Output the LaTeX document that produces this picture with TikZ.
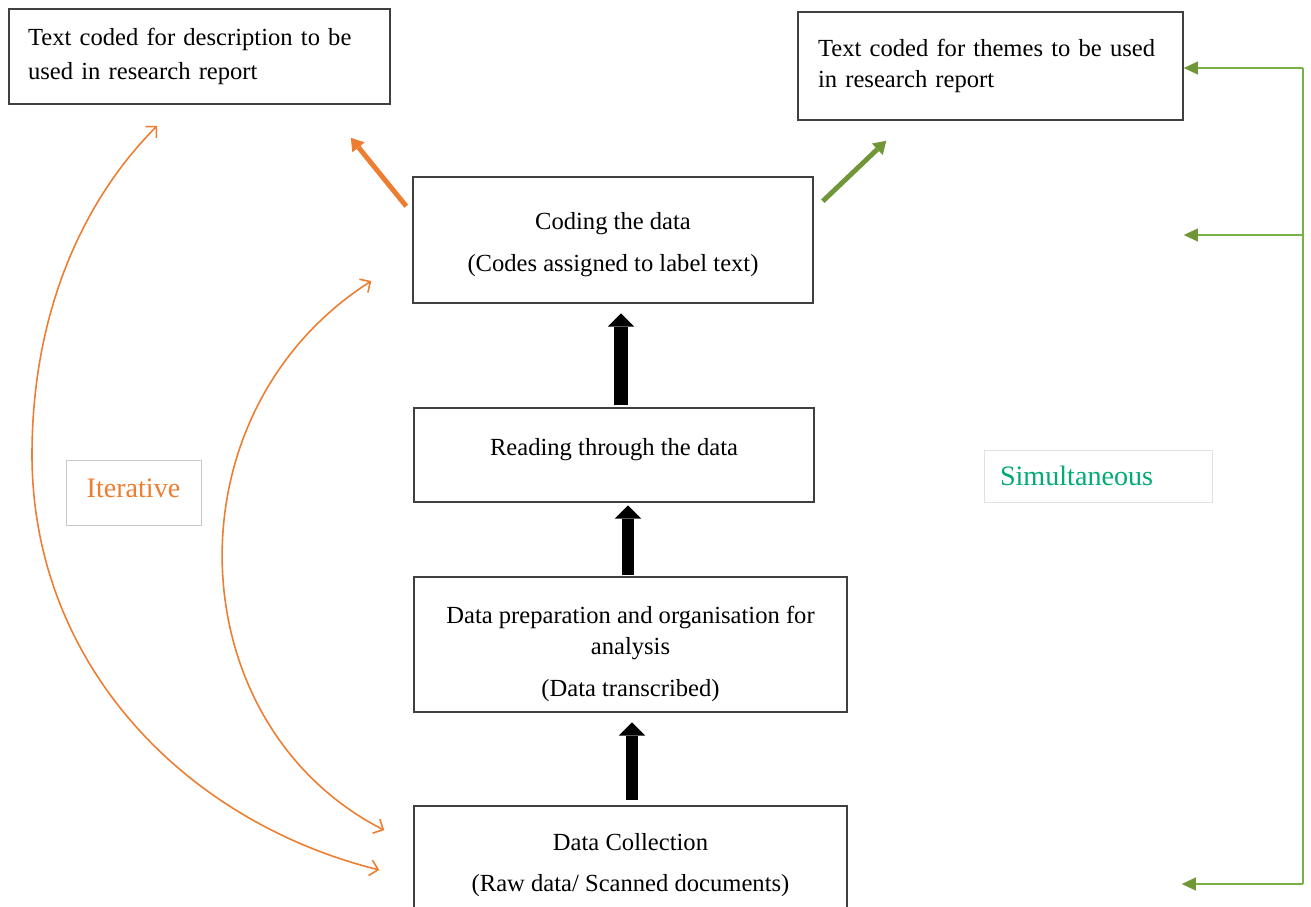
\documentclass[tikz,border=0pt]{standalone}
\usepackage{fontspec}
\setmainfont{Liberation Serif}
\usetikzlibrary{arrows.meta,calc}

\definecolor{iterorange}{RGB}{237,125,49}
\definecolor{railgreen}{RGB}{122,176,72}
\definecolor{leafgreen}{RGB}{112,150,55}
\definecolor{simtext}{RGB}{0,172,112}
\definecolor{boxline}{RGB}{64,64,64}
\definecolor{tagline}{RGB}{200,200,200}
\definecolor{faintline}{RGB}{225,225,225}

\begin{document}
\begin{tikzpicture}[x=0.02cm, y=-0.02cm,
  font=\fontsize{14}{18}\selectfont,
  stage/.style={draw=boxline, line width=0.9pt, fill=white, inner sep=0pt, align=center},
  report/.style={draw=boxline, line width=0.9pt, fill=white, inner ysep=0pt, align=left},
  tag/.style={draw=#1, line width=0.5pt, fill=white, inner sep=0pt, font=\fontsize{16}{19}\selectfont},
  blockarrow/.style={line width=#1, -{Triangle[width=15pt, length=7.5pt, line width=0pt]}},
  thickorange/.style={draw=iterorange, line width=2.8pt, -{Triangle[width=9pt, length=7pt, line width=0pt]}},
  thickgreen/.style={draw=leafgreen, line width=2.8pt, -{Triangle[width=9pt, length=7pt, line width=0pt]}},
  loop/.style={draw=iterorange, line width=0.9pt, {Straight Barb[length=4.5pt, width=9pt]}-{Straight Barb[length=4.5pt, width=9pt]}},
  rail/.style={draw=railgreen, line width=1.1pt},
  railarrow/.style={rail, -{Triangle[width=7.5pt, length=8pt, line width=0pt, fill=leafgreen]}}
]
\clip (0,0) rectangle (1311,906);

% output boxes
\node[report, minimum width=7.62cm, minimum height=1.9cm, text width=6.86cm, inner xsep=0.38cm]
  (desc) at (199.5,56.5) {Text coded for description to be\\[1pt]used in research report};
\node[report, minimum width=7.7cm, minimum height=2.16cm, text width=6.9cm, inner xsep=0.4cm]
  (themes) at (990.5,66) {Text coded for themes to be used\\in research report};

% process steps
\node[stage, minimum width=8cm, minimum height=2.52cm] (coding) at (613,240)
  {\rule{0pt}{15pt}Coding the data\\[6pt](Codes assigned to label text)};
\node[stage, minimum width=8cm, minimum height=1.88cm] (reading) at (614,455)
  {Reading through the data\rule[-8.6pt]{0pt}{1pt}};
\node[stage, minimum width=8.66cm, minimum height=2.7cm] (prep) at (630.5,644.5)
  {\rule{0pt}{20.5pt}Data preparation and organisation for\\analysis\\[6pt](Data transcribed)};
\node[stage, minimum width=8.66cm, minimum height=2.36cm] (collect) at (630.5,865)
  {Data Collection\\[5pt](Raw data/ Scanned documents)};

% side labels
\node[tag=tagline, minimum width=2.7cm, minimum height=1.3cm,
  text=iterorange] (iter) at (133.5,492.5) {Iterative\rule[-5pt]{0pt}{1pt}};
\node[tag=faintline, minimum width=4.56cm, minimum height=1.04cm,
  text width=3.92cm, inner xsep=0.32cm, align=left, text=simtext] (simul) at (1098,476) {Simultaneous};

% upward block arrows between the steps
\coordinate (ax1) at (621,0);
\coordinate (ax2) at (628,0);
\coordinate (ax3) at (632,0);
\draw[blockarrow=7.8pt, shorten <=1pt, shorten >=5.5pt] (reading.north -| ax1) -- (coding.south -| ax1);
\draw[blockarrow=6.6pt, shorten <=0.5pt, shorten >=1.5pt] (prep.north -| ax2) -- (reading.south -| ax2);
\draw[blockarrow=7.2pt, shorten <=3pt, shorten >=5.5pt] (collect.north -| ax3) -- (prep.south -| ax3);

% coding feeds both reports
\draw[thickorange] ($(coding.north west)+(-6,30)$) -- ($(desc.south east)+(-40,33)$);
\draw[thickgreen] ($(coding.north east)+(9,25)$) -- ($(themes.south west)+(89,20)$);

% iterative loops back to data collection
\coordinate (outerbend) at (32,455);
\draw[loop] ($(desc.south west)+(149,21)$) .. controls (88,195) and (32,305) .. (outerbend)
  .. controls (32,660) and (180,820) .. ($(collect.west)+(-34,5)$);
\draw[loop] ($(coding.west)+(-41,41)$) .. controls (165,413) and (177,724) .. ($(collect.north west)+(-29,25)$);

% simultaneous rail on the right
\coordinate (railtop) at (1303,68);
\coordinate (railmid) at (1303,235);
\coordinate (railbot) at (1303,884);
\draw[rail] (railtop) -- (railbot);
\draw[railarrow] (railtop) -- (themes.east |- railtop);
\draw[railarrow] (railmid) -- (themes.east |- railmid);
\draw[railarrow] (railbot) -- ($(themes.east |- railbot)+(-2,0)$);
\end{tikzpicture}
\end{document}
